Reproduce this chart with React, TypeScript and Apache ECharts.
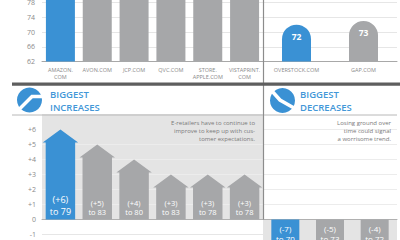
import React, { useEffect, useRef } from "react";
import * as echarts from "echarts";

const FONT = "'Open Sans', 'Noto Sans', sans-serif";
const BLUE = "#3a91d4";
const GRAY = "#a6a7a9";
const BG = "#e4e4e4";

// Top panel: scores
const topCategories = ["AMAZON.\nCOM", "AVON.COM", "JCP.COM", "QVC.COM", "STORE.\nAPPLE.COM", "VISTAPRINT.\nCOM"];
const topValues = [88, 86, 85, 84, 84, 83];
const lowCategories = ["OVERSTOCK.COM", "GAP.COM"];
const lowValues = [72, 73];
const topTicks = [62, 90, 4];

// Bottom panel: changes
const incChanges = [6, 5, 4, 3, 3, 3];
const incScores = [79, 83, 80, 83, 78, 78];
const decChanges = [-7, -5, -4];
const decScores = [70, 73, 72];

const incText = "E-retailers have to continue to\nimprove to keep up with cus-\ntomer expectations.";
const decText = "Losing ground over\ntime could signal\na worrisome trend.";

export default function App() {
  const ref = useRef<HTMLDivElement>(null);
  useEffect(() => {
    if (!ref.current) return;
    const chart = echarts.init(ref.current, undefined, { renderer: "svg" });

    const incSplitArea = ["#ffffff", BG, BG, BG, BG, BG, BG, BG];
    const incSplitLine = ["#e6e6e6", "#eeeeee", "#ececec", "#ececec", "#ececec", "#ececec", "#ececec", BG];
    const decSplitArea = [BG, BG, BG, BG, BG, BG, BG, BG, "#fff", "#fff", "#fff", "#fff", "#fff", "#fff", "#fff"];
    const decSplitLine = [BG, BG, BG, BG, BG, BG, BG, BG, "#e8e8e8", "#ececec", "#ececec", "#ececec", "#ececec", "#ececec", "#ececec", "#ffffff"];

    const option: any = {
      animation: false,
      textStyle: { fontFamily: FONT },
      grid: [
        { left: 42, top: -41.75, width: 221, height: 103.25, outerBoundsMode: "none", containLabel: false },
        { left: 263, top: -41.75, width: 134, height: 103.25, outerBoundsMode: "none", containLabel: false },
        { left: 42, top: 114.5, width: 221, height: 120, outerBoundsMode: "none", containLabel: false },
        { left: 263, top: 114.5, width: 134, height: 225, outerBoundsMode: "none", containLabel: false },
      ],
      xAxis: [
        {
          gridIndex: 0, type: "category", data: topCategories,
          axisLine: { lineStyle: { color: "#a8a8a8" } }, axisTick: { show: false },
          axisLabel: { interval: 0, fontSize: 5.5, color: "#8a8a8a", lineHeight: 7, margin: 5, fontFamily: FONT },
        },
        {
          gridIndex: 1, type: "category", data: lowCategories,
          axisLine: { lineStyle: { color: "#a8a8a8" } }, axisTick: { show: false },
          axisLabel: { interval: 0, fontSize: 5.5, color: "#8a8a8a", lineHeight: 7, margin: 5, fontFamily: FONT },
        },
        {
          gridIndex: 2, type: "category", data: incScores.map((s, i) => "inc" + i),
          axisLine: { lineStyle: { color: "#b0b0b0" } }, axisTick: { show: false }, axisLabel: { show: false },
        },
        {
          gridIndex: 3, type: "category", data: decScores.map((s, i) => "dec" + i),
          axisLine: { lineStyle: { color: "#b0b0b0" } }, axisTick: { show: false }, axisLabel: { show: false },
        },
      ],
      yAxis: [
        {
          gridIndex: 0, type: "value", min: topTicks[0], max: topTicks[1], interval: topTicks[2],
          axisLine: { show: false }, axisTick: { show: false },
          axisLabel: { fontSize: 7, color: "#8a8a8a", margin: 7, fontFamily: FONT, formatter: (v: number) => (v > 78 ? "" : String(v)) },
          splitLine: { lineStyle: { color: "#e6e6e6" } },
        },
        {
          gridIndex: 1, type: "value", min: topTicks[0], max: topTicks[1], interval: topTicks[2],
          axisLine: { show: false }, axisTick: { show: false }, axisLabel: { show: false },
          splitLine: { lineStyle: { color: "#e6e6e6" } },
        },
        {
          gridIndex: 2, type: "value", min: -1, max: 7, interval: 1,
          axisLine: { show: false }, axisTick: { show: false },
          axisLabel: {
            fontSize: 7, color: "#8a8a8a", margin: 6, fontFamily: FONT,
            formatter: (v: number) => (v >= 7 ? "" : v > 0 ? "+" + v : String(v)),
          },
          splitLine: { lineStyle: { color: incSplitLine } },
          splitArea: { show: true, areaStyle: { color: incSplitArea } },
        },
        {
          gridIndex: 3, type: "value", min: -8, max: 7, interval: 1,
          axisLine: { show: false }, axisTick: { show: false }, axisLabel: { show: false },
          splitLine: { lineStyle: { color: decSplitLine } },
          splitArea: { show: true, areaStyle: { color: decSplitArea } },
        },
      ],
      series: [
        {
          type: "bar", xAxisIndex: 0, yAxisIndex: 0, barWidth: 29,
          data: topValues.map((v, i) => ({ value: v, itemStyle: { color: i === 0 ? BLUE : GRAY } })),
        },
        {
          type: "bar", xAxisIndex: 1, yAxisIndex: 1, barWidth: 29,
          data: lowValues.map((v, i) => ({ value: v, itemStyle: { color: i === 0 ? BLUE : GRAY, borderRadius: [15, 15, 0, 0] } })),
          label: {
            show: true, position: "insideTop", distance: 7, color: "#fff", fontSize: 8.5, fontWeight: "bold", fontFamily: FONT,
          },
        },
        {
          type: "custom", xAxisIndex: 2, yAxisIndex: 2,
          data: incChanges.map((v, i) => [i, v, incScores[i]]),
          encode: { x: 0, y: 1 },
          renderItem: (params: any, api: any) => {
            const idx = api.value(0);
            const v = api.value(1);
            const score = api.value(2);
            const base = api.coord([idx, 0]);
            const top = api.coord([idx, v]);
            const bw = api.size([1, 0])[0] * 0.8;
            const cx = base[0];
            const roofH = 13;
            const over = 3;
            const l = cx - bw / 2;
            const r = cx + bw / 2;
            const eave = top[1] + roofH;
            const first = idx === 0;
            return {
              type: "group",
              children: [
                {
                  type: "polygon",
                  shape: { points: [[l, base[1]], [l, eave], [l - over, eave], [cx, top[1]], [r + over, eave], [r, eave], [r, base[1]]] },
                  style: { fill: first ? BLUE : GRAY },
                },
                {
                  type: "text",
                  x: cx,
                  y: base[1] - (first ? 14.5 : 12),
                  style: {
                    text: "(+" + v + ")\nto " + score,
                    fill: "#fff",
                    fontSize: first ? 9 : 7.5,
                    fontFamily: FONT,
                    lineHeight: first ? 12 : 9.5,
                    align: "center",
                    verticalAlign: "middle",
                  },
                },
              ],
            };
          },
        },
        {
          type: "custom", xAxisIndex: 3, yAxisIndex: 3,
          data: decChanges.map((v, i) => [i, v, decScores[i]]),
          encode: { x: 0, y: 1 },
          renderItem: (params: any, api: any) => {
            const idx = api.value(0);
            const v = api.value(1);
            const score = api.value(2);
            const base = api.coord([idx, 0]);
            const bot = api.coord([idx, v]);
            const bw = 28;
            const cx = base[0];
            return {
              type: "group",
              children: [
                {
                  type: "rect",
                  shape: { x: cx - bw / 2, y: base[1], width: bw, height: bot[1] - base[1] },
                  style: { fill: idx === 0 ? BLUE : GRAY },
                },
                {
                  type: "text",
                  x: cx,
                  y: base[1] + 3.5,
                  style: {
                    text: "(" + v + ")\nto " + score,
                    fill: "#fff",
                    fontSize: 8,
                    fontFamily: FONT,
                    lineHeight: 10,
                    align: "center",
                    verticalAlign: "top",
                  },
                },
              ],
            };
          },
        },
      ],
      graphic: [
        { type: "line", shape: { x1: 263.5, y1: 0, x2: 263.5, y2: 219.5 }, style: { stroke: "#8c8c8c", lineWidth: 1.2 }, z: 10 },
        { type: "rect", shape: { x: 12, y: 82.5, width: 388, height: 3.2 }, style: { fill: "#5e5e5e" }, z: 11 },
        { type: "line", shape: { x1: 12, y1: 115, x2: 263, y2: 115 }, style: { stroke: "#b8b8b8", lineWidth: 1 }, z: 10 },
        { type: "line", shape: { x1: 264, y1: 115, x2: 397, y2: 115 }, style: { stroke: "#b8b8b8", lineWidth: 1 }, z: 10 },
        // increase icon
        { type: "circle", shape: { cx: 29.5, cy: 100, r: 12.5 }, style: { fill: BLUE }, z: 10 },
        { type: "polyline", shape: { points: [[18, 110.5], [32, 96.5], [42.5, 96.5]] }, style: { stroke: "#fff", lineWidth: 3.5, fill: null }, z: 11 },
        // decrease icon
        { type: "circle", shape: { cx: 282.5, cy: 100.5, r: 12.5 }, style: { fill: BLUE }, z: 10 },
        { type: "polyline", shape: { points: [[271, 90], [280, 100], [294, 108]] }, style: { stroke: "#fff", lineWidth: 3.5, fill: null }, z: 11 },
        {
          type: "text", x: 50, y: 101, z: 11,
          style: { text: "BIGGEST\nINCREASES", fill: "#4297d8", fontSize: 9.5, fontWeight: 600, fontFamily: FONT, lineHeight: 12.5, verticalAlign: "middle" },
        },
        {
          type: "text", x: 300, y: 101, z: 11,
          style: { text: "BIGGEST\nDECREASES", fill: "#4297d8", fontSize: 9.5, fontWeight: 600, fontFamily: FONT, lineHeight: 12.5, verticalAlign: "middle" },
        },
        {
          type: "text", x: 255, y: 119.5, z: 11,
          style: { text: incText, fill: "#7a7a7a", fontSize: 6, fontFamily: FONT, lineHeight: 7.7, align: "right", verticalAlign: "top" },
        },
        {
          type: "text", x: 391, y: 119.5, z: 11,
          style: { text: decText, fill: "#7a7a7a", fontSize: 6, fontFamily: FONT, lineHeight: 7.7, align: "right", verticalAlign: "top" },
        },
      ],
    };
    chart.setOption(option);
    return () => chart.dispose();
  }, []);
  return <div ref={ref} style={{ position: "fixed", left: 0, top: 0, width: 400, height: 240, background: "#fff" }} />;
}
